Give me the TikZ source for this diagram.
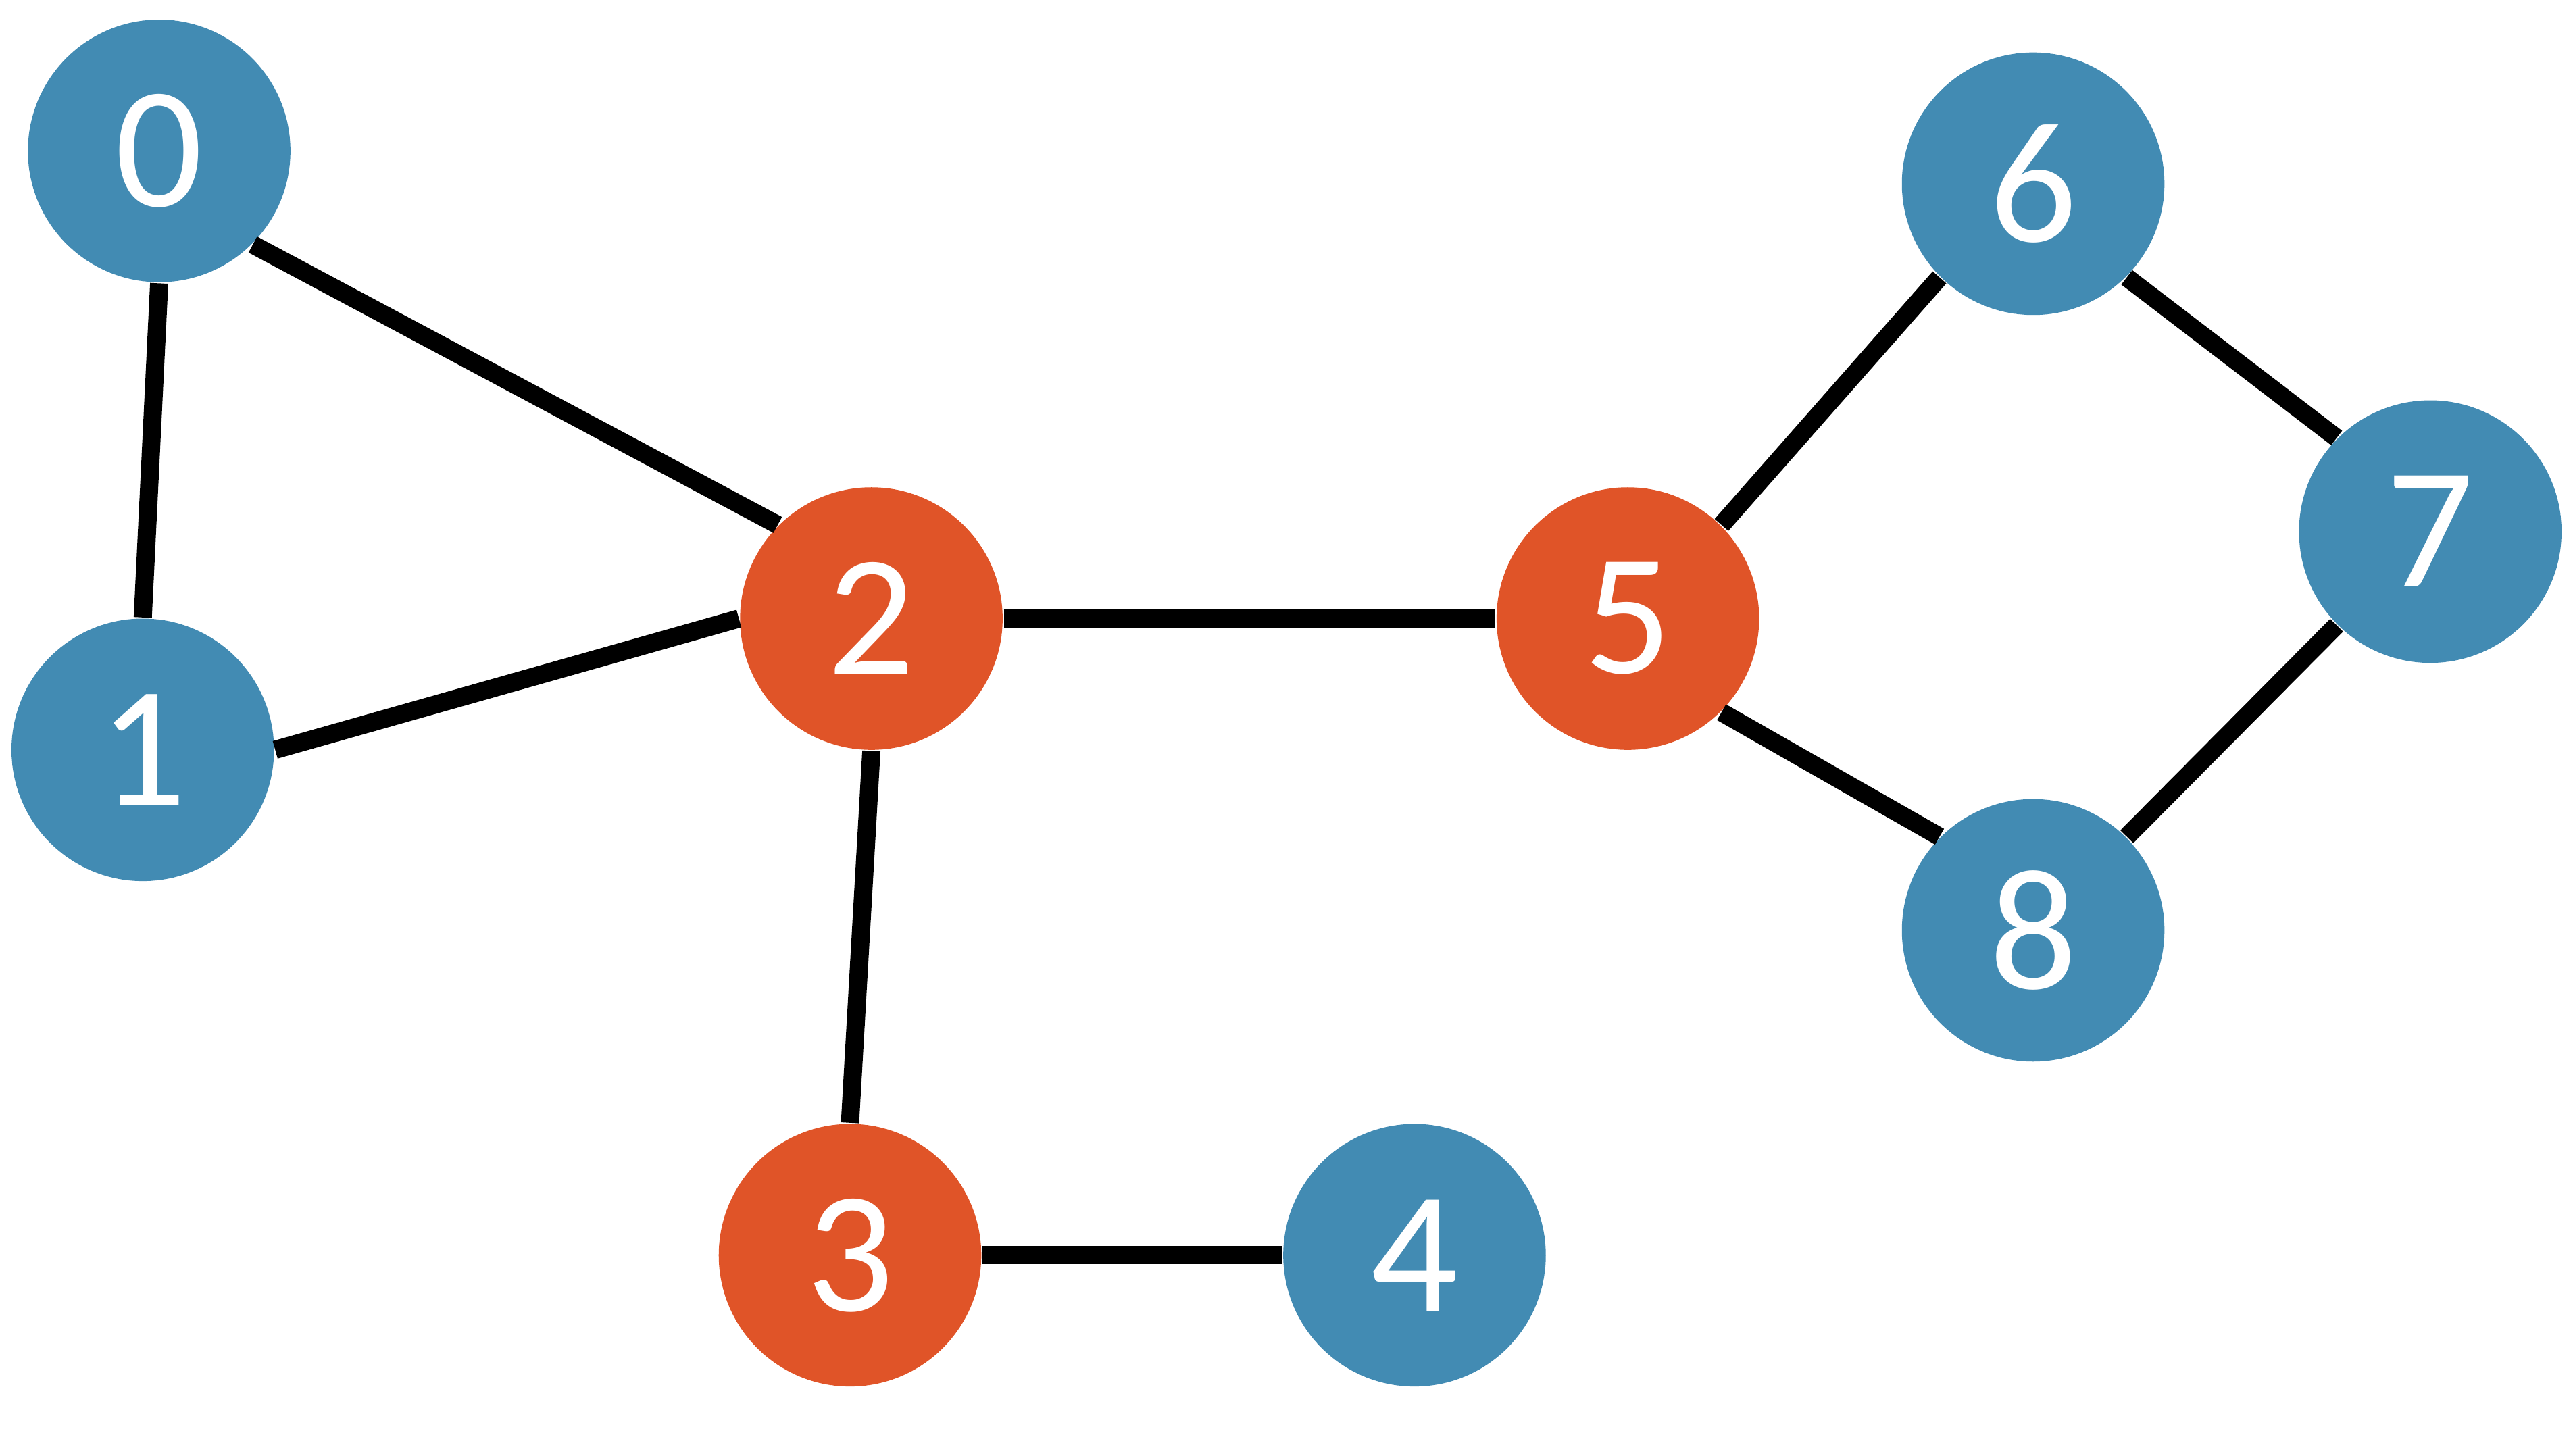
\documentclass[tikz,border=0pt]{standalone}
\usepackage{fontspec}
\setmainfont{Carlito}
\usetikzlibrary{positioning}
\definecolor{vblue}{HTML}{428BB3}
\definecolor{vred}{HTML}{E05428}
\tikzset
{
    vertex/.style = {circle, minimum size=1.6cm, inner sep=0pt, text=white, font=\fontsize{30}{36}\selectfont},
    bluev/.style  = {vertex, fill=vblue},
    redv/.style   = {vertex, fill=vred},
    link/.style   = {draw=black, line width=3.15pt}
}

\begin{document}
\begin{tikzpicture}
    \useasboundingbox (0,0) rectangle (15.68,8.87);
    % vertices
    \node [bluev] (v0) at (0.97, 7.95) {0};
    \node [bluev] (v1) at (0.87, 4.30) {1};
    \node [redv]  (v2) at (5.31, 5.10) {2};
    \node [redv]  (v3) at (5.18, 1.22) {3};
    \node [bluev] (v4) at (8.62, 1.22) {4};
    \node [redv]  (v5) at (9.92, 5.10) {5};
    \node [bluev] (v6) at (12.39, 7.75) {6};
    \node [bluev] (v7) at (14.81, 5.63) {7};
    \node [bluev] (v8) at (12.39, 3.20) {8};
    % edges
    \draw [link] (v0.south) -- (v1.north);
    \draw [link] (v0.south east) -- (v2.north west);
    \draw [link] (v1.east) -- (v2.west);
    \draw [link] (v2.south) -- (v3.north);
    \draw [link] (v2.east) -- (v5.west);
    \draw [link] (v3.east) -- (v4.west);
    \draw [link] (v5.north east) -- (v6.south west);
    \draw [link] (v5.south east) -- (v8.north west);
    \draw [link] (v6.south east) -- (v7.north west);
    \draw [link] (v7.south west) -- (v8.north east);
\end{tikzpicture}
\end{document}
